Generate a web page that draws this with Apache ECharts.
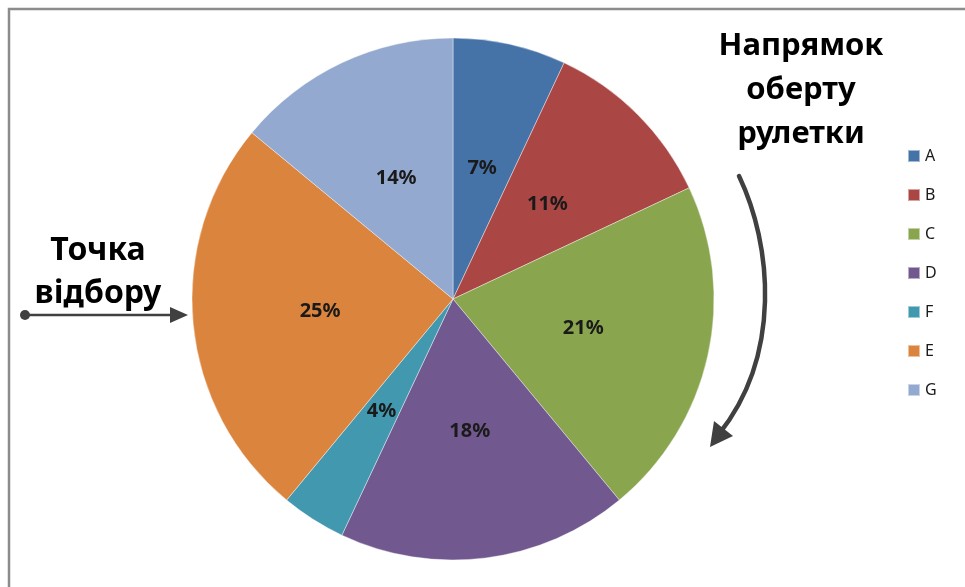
<!DOCTYPE html>
<html lang="uk">

<head>
    <meta charset="UTF-8">
    <title>Рулетка</title>
    <script src="https://cdn.jsdelivr.net/npm/echarts@6/dist/echarts.min.js"></script>
    <style>
        html, body { margin: 0; padding: 0; background: #fff; }
    </style>
</head>

<body>
    <div id="main" style="width: 965px;height:587px;"></div>
    <script type="text/javascript">
        // дані секторів (за годинниковою стрілкою від верху)
        var names = ['A', 'B', 'C', 'D', 'F', 'E', 'G'];
        var values = [7, 11, 21, 18, 4, 25, 14];
        var colors = ['#4572a7', '#aa4643', '#89a54e', '#71588f', '#4198af', '#db843d', '#93a9cf'];

        var font = '"Noto Sans", sans-serif';
        var dark = '#404040';

        var pieData = names.map(function (n, i) {
            return { name: n, value: values[i], itemStyle: { color: colors[i] } };
        });

        var chart = echarts.init(document.getElementById('main'));

        var option = {
            animation: false,
            legend: {
                orient: 'vertical',
                left: 902,
                top: 142,
                itemWidth: 12,
                itemHeight: 12,
                itemGap: 21,
                icon: 'rect',
                data: names,
                textStyle: { fontFamily: font, fontSize: 16, color: '#1a1a1a', lineHeight: 18 }
            },
            series: [{
                type: 'pie',
                center: [453, 299],
                radius: [0, 261],
                startAngle: 90,
                clockwise: true,
                label: {
                    show: true,
                    position: 'inside',
                    formatter: '{d}%',
                    fontFamily: font,
                    fontSize: 20,
                    fontWeight: 'bold',
                    color: '#1a1a1a'
                },
                labelLine: { show: false },
                itemStyle: { borderColor: 'rgba(255,255,255,0.5)', borderWidth: 0.8 },
                emphasis: { disabled: true },
                data: pieData
            }],
            graphic: [
                // рамка
                {
                    type: 'polyline', z: 10,
                    shape: { points: [[9, 590], [9, 9], [970, 9]] },
                    style: { stroke: '#8c8c8c', lineWidth: 2.5, fill: null }
                },
                // напис справа
                {
                    type: 'text', z: 10, x: 801, y: 24,
                    style: { text: 'Напрямок\nоберту\nрулетки', fontFamily: font, fontSize: 31, fontWeight: 'bold', fill: '#000', align: 'center', lineHeight: 44 }
                },
                // дугова стрілка
                {
                    type: 'bezierCurve', z: 10,
                    shape: { x1: 739, y1: 176, cpx1: 772, cpy1: 245, cpx2: 782, cpy2: 355, x2: 719, y2: 434 },
                    style: { stroke: dark, lineWidth: 4.5, fill: null, lineCap: 'round' }
                },
                {
                    type: 'polygon', z: 10,
                    shape: { points: [[710, 447], [714, 421], [733, 436]] },
                    style: { fill: dark }
                },
                // напис зліва
                {
                    type: 'text', z: 10, x: 98, y: 229,
                    style: { text: 'Точка\nвідбору', fontFamily: font, fontSize: 32, fontWeight: 'bold', fill: '#000', align: 'center', lineHeight: 43 }
                },
                {
                    type: 'line', z: 10,
                    shape: { x1: 25, y1: 315, x2: 175, y2: 315 },
                    style: { stroke: dark, lineWidth: 2.5 }
                },
                {
                    type: 'circle', z: 10,
                    shape: { cx: 25, cy: 315, r: 5 },
                    style: { fill: dark }
                },
                {
                    type: 'polygon', z: 10,
                    shape: { points: [[170, 307], [188, 315], [170, 323]] },
                    style: { fill: dark }
                }
            ]
        };

        chart.setOption(option);
    </script>
</body>

</html>
